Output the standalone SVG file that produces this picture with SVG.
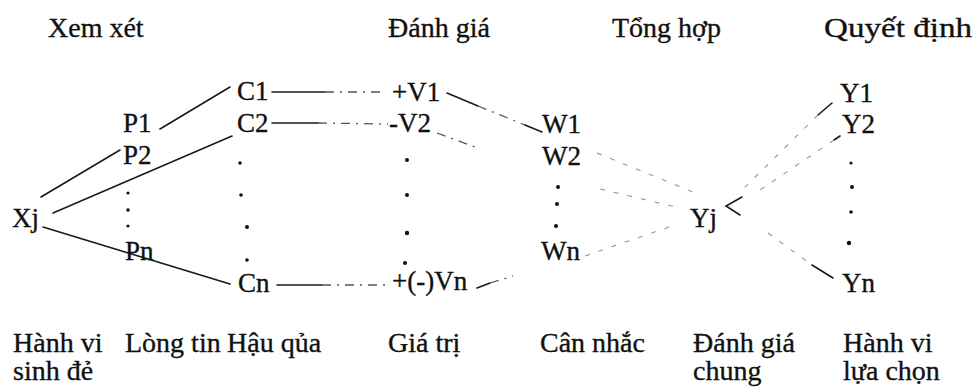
<svg xmlns="http://www.w3.org/2000/svg" width="976" height="392" viewBox="0 0 976 392">
<style>
text{font-family:"Liberation Serif","DejaVu Serif",serif;fill:#111;stroke:#111;stroke-width:0.35}
.h{font-size:28px}
.n{font-size:27px}
.ln{stroke:#1a1a1a;stroke-width:1.6;fill:none;stroke-linecap:round}
.fd{stroke:#555;stroke-width:1.3;fill:none;stroke-dasharray:9 6 2 6}
.ft{stroke:#999;stroke-width:1.1;fill:none;stroke-dasharray:5 9}
.dot{fill:#111}
</style>
<rect width="976" height="392" fill="#fff"/>
<g id="headers" class="h">
<text x="48" y="37">Xem xét</text>
<text x="388" y="37">Đánh giá</text>
<text x="612" y="37">Tổng hợp</text>
<text x="824" y="37" textLength="148" lengthAdjust="spacingAndGlyphs">Quyết định</text>
</g>
<g id="connectors">
<line class="ln" x1="41" y1="197" x2="120" y2="150"/>
<line class="ln" x1="53" y1="213" x2="232" y2="136"/>
<line class="ln" x1="43" y1="227" x2="230" y2="284"/>
<line class="ln" x1="160" y1="129" x2="230" y2="87"/>
<line class="ln" x1="272" y1="92" x2="325" y2="92"/><line class="fd" x1="325" y1="92" x2="382" y2="92"/>
<line class="ln" x1="272" y1="123" x2="318" y2="123"/><line class="fd" x1="318" y1="123" x2="388" y2="124"/>
<line class="ln" x1="277" y1="285" x2="322" y2="285"/><line class="fd" x1="322" y1="285" x2="385" y2="285"/>
<line class="ln" x1="447" y1="93" x2="478" y2="106"/><line class="fd" x1="478" y1="106" x2="525" y2="125"/><line class="ln" x1="525" y1="125" x2="542" y2="132"/>
<line class="fd" x1="437" y1="133" x2="475" y2="147"/>
<line class="ln" x1="477" y1="288" x2="490" y2="283"/><line class="fd" x1="490" y1="283" x2="513" y2="276"/>
<line class="ft" x1="597" y1="153" x2="693" y2="192"/>
<line class="ft" x1="600" y1="189" x2="680" y2="208"/>
<line class="ft" x1="585" y1="256" x2="678" y2="224"/>
<line class="ln" x1="832" y1="103" x2="818" y2="115"/><line class="ft" x1="818" y1="115" x2="742" y2="190"/>
<line class="ln" x1="840" y1="136" x2="834" y2="140"/><line class="ft" x1="834" y1="140" x2="760" y2="190"/>
<polyline class="ln" points="742,197 726,206 740,215"/>
<line class="ft" x1="768" y1="233" x2="812" y2="265"/><line class="ln" x1="812" y1="265" x2="833" y2="278"/>
</g>
<g id="Xj"><text class="n" x="12" y="227">Xj</text></g>
<g id="P"><text class="n" x="123" y="132">P1</text><text class="n" x="123" y="164">P2</text>
<circle class="dot" cx="128" cy="193" r="1.6"/><circle class="dot" cx="128" cy="210" r="1.8"/><circle class="dot" cx="128" cy="226" r="1.6"/>
<text class="n" x="125" y="260">Pn</text></g>
<g id="C"><text class="n" x="237" y="100">C1</text><text class="n" x="237" y="132">C2</text>
<circle class="dot" cx="240" cy="163" r="1.8"/><circle class="dot" cx="241" cy="195" r="1.8"/><circle class="dot" cx="247" cy="227" r="2"/><circle class="dot" cx="247" cy="260" r="1.8"/>
<text class="n" x="238" y="292">Cn</text></g>
<g id="V"><text class="n" x="392" y="101">+V1</text><text class="n" x="389" y="132">-V2</text>
<circle class="dot" cx="407" cy="160" r="2"/><circle class="dot" cx="407" cy="195" r="2"/><circle class="dot" cx="407" cy="233" r="2.2"/><circle class="dot" cx="405" cy="263" r="2"/>
<text class="n" x="392" y="290">+(-)Vn</text></g>
<g id="W"><text class="n" x="542" y="133">W1</text><text class="n" x="542" y="165">W2</text>
<circle class="dot" cx="558" cy="187" r="2"/><circle class="dot" cx="557" cy="204" r="2"/><circle class="dot" cx="556" cy="226" r="2"/>
<text class="n" x="541" y="260">Wn</text></g>
<g id="Yj"><text class="n" x="690" y="227">Yj</text></g>
<g id="Y"><text class="n" x="840" y="102">Y1</text><text class="n" x="842" y="133">Y2</text>
<circle class="dot" cx="851" cy="163" r="1.6"/><circle class="dot" cx="852" cy="187" r="2"/><circle class="dot" cx="851" cy="212" r="1.8"/><circle class="dot" cx="849" cy="243" r="2.2"/>
<text class="n" x="842" y="292">Yn</text></g>
<g id="footer" class="h">
<text x="13" y="352">Hành vi</text><text x="13" y="380">sinh đẻ</text>
<text x="125" y="352">Lòng tin</text>
<text x="227" y="352">Hậu qủa</text>
<text x="388" y="352">Giá trị</text>
<text x="540" y="352">Cân nhắc</text>
<text x="693" y="352">Đánh giá</text><text x="693" y="380">chung</text>
<text x="843" y="352">Hành vi</text><text x="843" y="380">lựa chọn</text>
</g>
</svg>
